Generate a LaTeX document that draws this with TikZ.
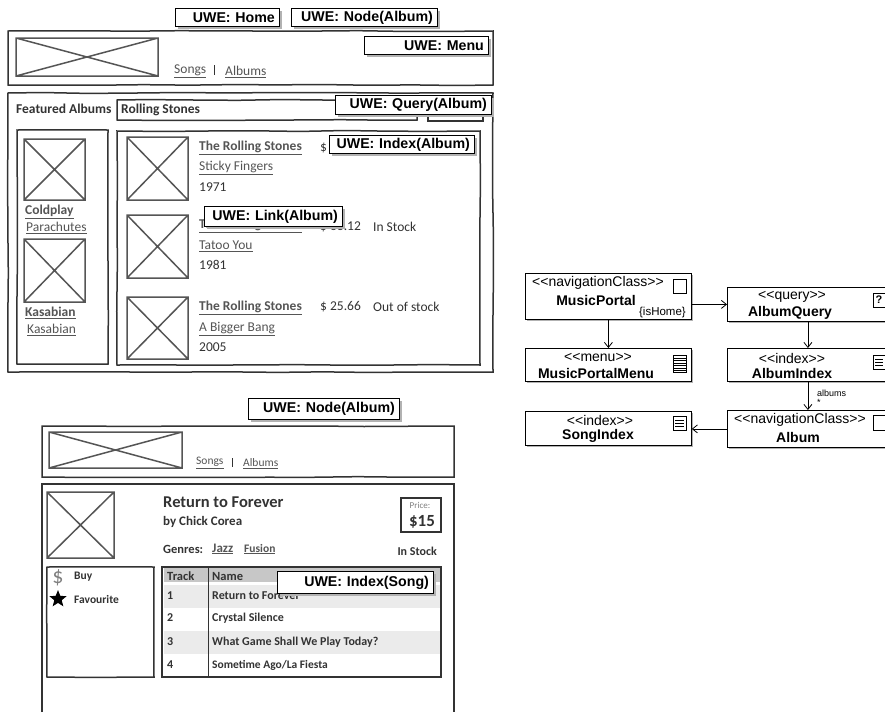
\documentclass[tikz,border=0pt]{standalone}
\usepackage{fontspec}
\usetikzlibrary{arrows.meta,shapes.geometric,shadows,decorations.pathmorphing}
\newfontfamily\umlf{Liberation Sans}
\newfontfamily\skf{Carlito}
\definecolor{ink}{HTML}{333333}
\definecolor{imgc}{HTML}{555555}
\definecolor{linkc}{HTML}{555555}
\tikzset{
  sk/.style={draw=ink,line width=1.5pt,decorate,decoration={random steps,segment length=45pt,amplitude=.5pt}},
  img/.style={draw=imgc,line width=1.5pt},
  stxt/.style={anchor=west,inner sep=0pt,text=ink,font=\skf\fontsize{13.5}{15}\selectfont},
  sbold/.style={stxt,font=\skf\bfseries\fontsize{13.5}{15}\selectfont},
  slink/.style={stxt,text=linkc},
  sblink/.style={sbold,text=linkc},
  small/.style={font=\skf\bfseries\fontsize{12}{15}\selectfont},
  smalln/.style={font=\skf\fontsize{11.5}{14}\selectfont},
  uwe/.style={draw=black,fill=white,line width=.8pt,anchor=north west,align=right,inner sep=0pt,
     font=\umlf\bfseries\fontsize{14.2}{16}\selectfont,
     drop shadow={shadow xshift=3pt,shadow yshift=-3pt,fill=black!30,opacity=1}},
  umlbox/.style={draw=black,fill=white,line width=.8pt,anchor=north west,inner sep=0pt,
     drop shadow={shadow xshift=2pt,shadow yshift=-2pt,fill=black!30,opacity=1}},
  st/.style={inner sep=0pt,font=\umlf\fontsize{14}{16}\selectfont},
  nm/.style={inner sep=0pt,font=\umlf\bfseries\fontsize{14}{16}\selectfont},
  conn/.style={draw=black,line width=.8pt,-{Straight Barb[length=5pt,width=8pt]}},
  icon/.style={draw=black,line width=.8pt,fill=white},
}
\newcommand\ph[4]{\draw[img] (#1,#2) rectangle (#3,#4) (#1,#2)--(#3,#4) (#1,#4)--(#3,#2);}
\newcommand\uwel[6]{\node[uwe,minimum width=#4pt,minimum height=#5pt,text width=#4pt-9pt] (#1) at (#2,#3) {\mbox{#6}};}
\newcommand\ub[1]{\underline{#1}}
\begin{document}
\begin{tikzpicture}[x=1pt,y=-1pt]
\useasboundingbox (0,0) rectangle (885,712);
\fill[white] (0,0) rectangle (885,712);
% top page
\draw[sk] (8,31) rectangle (493,85);
\ph{16}{38}{158}{76}
\node[slink] (songs1) at (174,71) {\ub{Songs}};
\draw[ink,line width=1pt] (214,65) -- (214,75);
\node[slink] (albums1) at (225,72) {\ub{Albums}};
\draw[sk] (8,93) rectangle (493,372);
\node[sbold] (feat) at (16,109) {Featured Albums};
\draw[sk] (117,100) rectangle (417,120);
\node[sbold] (rs) at (121,110) {Rolling Stones};
\draw[ink,line width=1.8pt] (428,115) -- (428,121) -- (483,121) -- (483,115);
\draw[sk] (17,130) rectangle (108,364);
\ph{24}{139}{85}{200}
\node[sblink] (cp) at (25,212) {\ub{Coldplay}};
\node[slink] (pa) at (26,228) {\ub{Parachutes}};
\ph{24}{239}{85}{302}
\node[sblink] (ka) at (25,313) {\ub{Kasabian}};
\node[slink] (kb) at (27,330) {\ub{Kasabian}};
\draw[sk] (117,131) rectangle (480,365);
\ph{127}{137}{188}{200}
\ph{127}{215}{188}{278}
\ph{127}{297}{188}{359}
\node[sblink] (t1) at (199,148) {\ub{The Rolling Stones}};
\node[slink] (a1) at (199,168) {\ub{Sticky Fingers}};
\node[stxt] (y1) at (199,187) {1971};
\node[stxt] (p1) at (320,148) {\$};
\node[sblink] (t2) at (199,226) {\ub{The Rolling Stones}};
\node[stxt] (p2) at (320,227) {\$ 33.12};
\node[stxt] (s2) at (373,227) {In Stock};
\node[slink] (a2) at (199,246) {\ub{Tatoo You}};
\node[stxt] (y2) at (199,265) {1981};
\node[sblink] (t3) at (199,308) {\ub{The Rolling Stones}};
\node[stxt] (p3) at (320,307) {\$ 25.66};
\node[stxt] (s3) at (373,307) {Out of stock};
\node[slink] (a3) at (199,329) {\ub{A Bigger Bang}};
\node[stxt] (y3) at (199,347) {2005};
% lower page
\draw[sk] (42,426) rectangle (454,477);
\ph{49}{432}{182}{468}
\node[slink,smalln] (songs2) at (196,463) {\ub{Songs}};
\draw[ink,line width=1pt] (232,458) -- (232,467);
\node[slink,smalln] (albums2) at (243,464) {\ub{Albums}};
\draw[ink,line width=1.4pt] (42,712) -- (42,484) -- (454,484) -- (454,712);
\ph{47}{492}{114}{558}
\node[sbold,font=\skf\bfseries\fontsize{16.5}{18}\selectfont] (rtf) at (163,502) {Return to Forever};
\node[sbold,font=\skf\bfseries\fontsize{13}{15}\selectfont] (cc) at (163,522) {by Chick Corea};
\node[sbold,font=\skf\bfseries\fontsize{12.5}{15}\selectfont] (gen) at (163,549) {Genres:};
\node[slink,font=\skf\bfseries\fontsize{13}{15}\selectfont] (jazz) at (212,549) {\ub{Jazz}};
\node[slink,font=\skf\bfseries\fontsize{11.5}{15}\selectfont] (fus) at (244,549) {\ub{Fusion}};
\node[sbold,anchor=east,small] (stk) at (437,551) {In Stock};
\draw[sk] (401,498) rectangle (441,532);
\node[stxt,anchor=center,text=gray,font=\skf\fontsize{9}{10}\selectfont] (prl) at (420,505) {Price:};
\node[sbold,anchor=center,font=\skf\bfseries\fontsize{17}{19}\selectfont] (prv) at (422,522) {\$15};
\draw[sk] (47,567) rectangle (154,677);
\node[stxt,anchor=center,text=gray,font=\skf\fontsize{22}{24}\selectfont] (dol) at (58,578) {\$};
\node[sbold,font=\skf\bfseries\fontsize{11.5}{15}\selectfont] (buy) at (74,577) {Buy};
\node[star,star points=5,star point ratio=2.3,fill=black,inner sep=0pt,minimum size=18pt] (sta) at (58,599) {};
\node[sbold,font=\skf\bfseries\fontsize{11.5}{15}\selectfont] (fav) at (74,599) {Favourite};
\fill[black!22] (164,568) rectangle (440,582);
\fill[black!8] (164,585) rectangle (440,608);
\fill[black!8] (164,631) rectangle (440,654);
\draw[ink,line width=1.4pt] (162,567) rectangle (441,677);
\draw[ink,line width=1pt] (208,567) -- (208,677);
\node[sbold,font=\skf\bfseries\fontsize{12.5}{15}\selectfont] (th1) at (167,576) {Track};
\node[sbold,font=\skf\bfseries\fontsize{12.5}{15}\selectfont] (th2) at (212,576) {Name};
\node[sbold,small] (c1) at (167,596) {1};
\node[sbold,small] (d1) at (212,596) {Return to Forever};
\node[sbold,small] (c2) at (167,618) {2};
\node[sbold,small] (d2) at (212,618) {Crystal Silence};
\node[sbold,small] (c3) at (167,642) {3};
\node[sbold,small] (d3) at (212,642) {What Game Shall We Play Today?};
\node[sbold,small] (c4) at (167,665) {4};
\node[sbold,font=\skf\bfseries\fontsize{11.5}{15}\selectfont] (d4) at (212,665) {Sometime Ago/La Fiesta};
% UWE labels
\uwel{lhome}{175}{8}{104}{18}{UWE: Home}
\uwel{lnode}{291}{8}{146}{18}{UWE: Node(Album)}
\uwel{lmenu}{364}{36}{124}{18}{UWE: Menu}
\uwel{lquery}{335}{95}{156}{19}{UWE: Query(Album)}
\uwel{lindex}{329}{135}{145}{18}{UWE: Index(Album)}
\uwel{llink}{204}{206}{138}{20}{UWE: Link(Album)}
\uwel{lnode2}{248}{398}{151}{21}{UWE: Node(Album)}
\uwel{lindex2}{277}{571}{156}{22}{UWE: Index(Song)}
% UML
\node[umlbox,minimum width=166pt,minimum height=46pt] (mp) at (525,273) {};
\node[umlbox,minimum width=161pt,minimum height=34pt] (aq) at (727,287) {};
\node[umlbox,minimum width=166pt,minimum height=33pt] (mm) at (525,348) {};
\node[umlbox,minimum width=161pt,minimum height=33pt] (ai) at (727,348) {};
\node[umlbox,minimum width=166pt,minimum height=34pt] (si) at (525,411) {};
\node[umlbox,minimum width=161pt,minimum height=37pt] (al) at (727,410) {};
\node[st] (mps) at (598,283) {<{}<navigationClass>{}>};
\node[nm] (mpn) at (596,300) {MusicPortal};
\node[inner sep=0pt,font=\umlf\fontsize{11.5}{13}\selectfont,anchor=east] (mph) at (686,313) {\{isHome\}};
\node[st] (aqs) at (792,297) {<{}<query>{}>};
\node[nm] (aqn) at (790,313) {AlbumQuery};
\node[st] (mms) at (598,357) {<{}<menu>{}>};
\node[nm] (mmn) at (596,373) {MusicPortalMenu};
\node[st] (ais) at (792,358) {<{}<index>{}>};
\node[nm] (ain) at (792,373) {AlbumIndex};
\node[st] (sis) at (600,420) {<{}<index>{}>};
\node[nm] (sin) at (598,436) {SongIndex};
\node[st] (als) at (800,420) {<{}<navigationClass>{}>};
\node[nm] (aln) at (798,437) {Album};
\draw[icon] (673,279) rectangle (686,293);
\draw[icon] (873,415) rectangle (888,430);
\draw[icon] (873,293) rectangle (885,307);
\node[inner sep=0pt,font=\umlf\bfseries\fontsize{11}{12}\selectfont] (q) at (879,300) {?};
\draw[icon] (673,355) rectangle (686,372);
\foreach \y in {358,360.5,363,365.5,368,370}{\draw[black,line width=.6pt] (673,\y)--(686,\y);}
\draw[icon] (873,355) rectangle (885,369);
\foreach \y in {359,362,365}{\draw[black,line width=.6pt] (875,\y)--(883,\y);}
\draw[icon] (673,416) rectangle (686,430);
\foreach \y in {420,423,426}{\draw[black,line width=.6pt] (675,\y)--(684,\y);}
\draw[conn] (mp.east |- aq.west) -- (aq.west);
\draw[conn] (mp.south) -- (mm.north);
\draw[conn] (aq.south) -- (ai.north);
\draw[conn] (ai.south) -- (al.north);
\draw[conn] (al.west) -- (al.west -| si.east);
\node[inner sep=0pt,anchor=west,font=\umlf\fontsize{9}{10}\selectfont] (lba) at (817,393) {albums};
\node[inner sep=0pt,anchor=west,font=\umlf\fontsize{9}{10}\selectfont] (lbb) at (817,402) {*};
\end{tikzpicture}
\end{document}
